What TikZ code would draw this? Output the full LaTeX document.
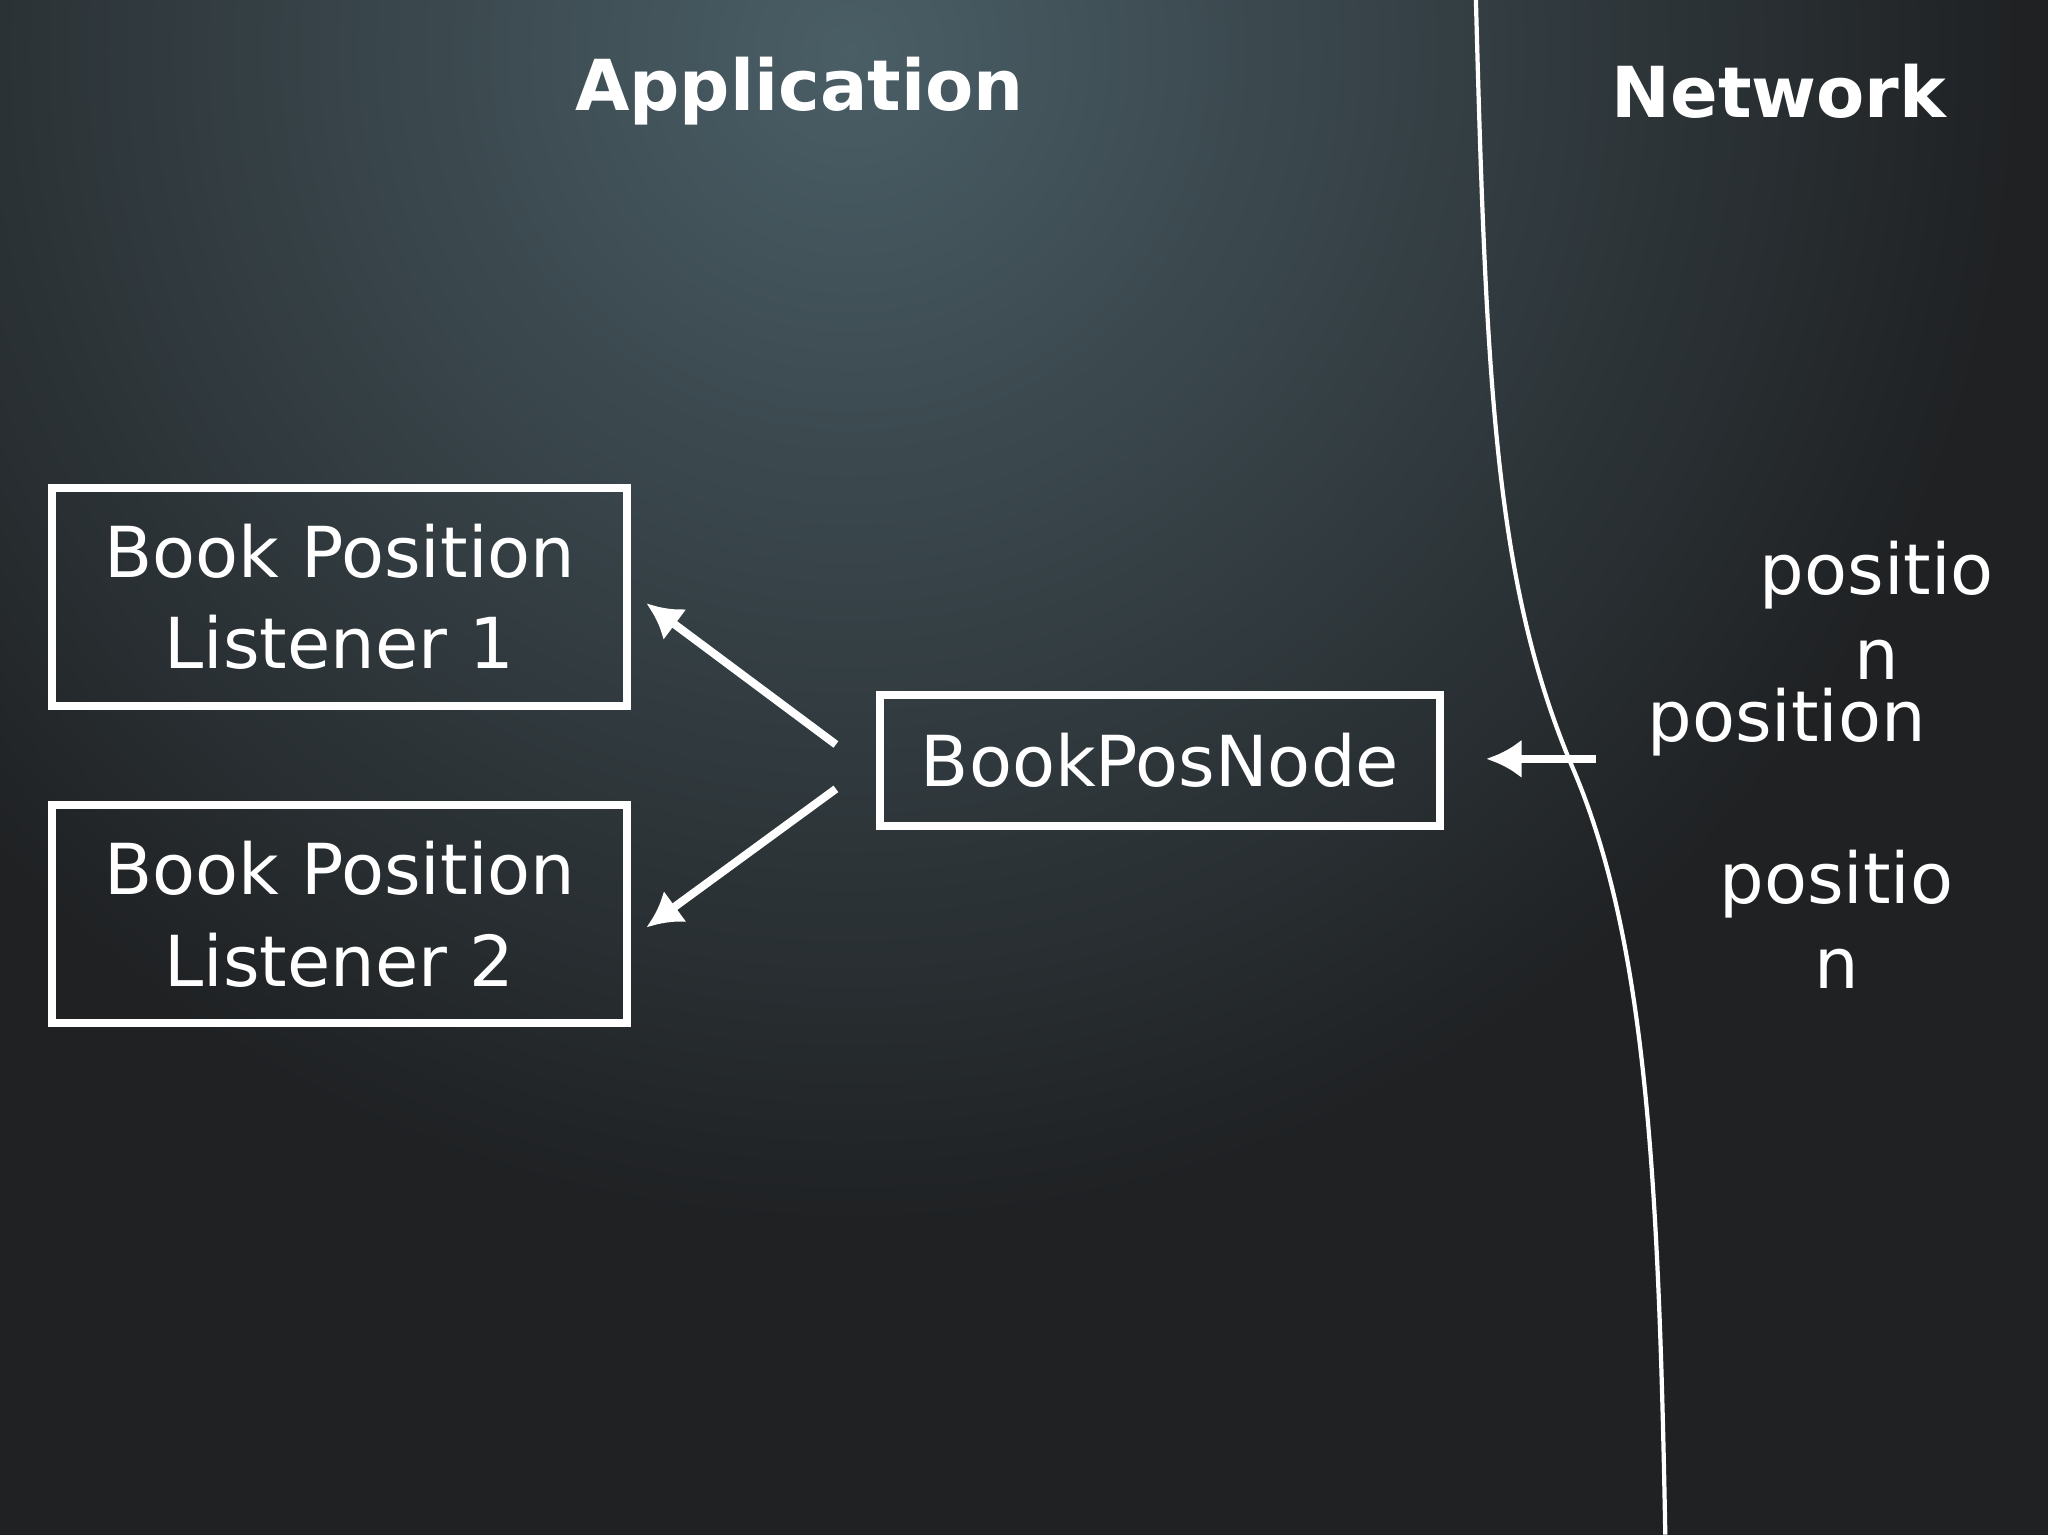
\documentclass[tikz,border=0pt]{standalone}
\usepackage{fontspec}
\setmainfont{DejaVu Sans}
\usetikzlibrary{arrows.meta}
\definecolor{bgdark}{RGB}{31,33,35}
\definecolor{bglight}{RGB}{74,94,102}
\begin{document}
\begin{tikzpicture}[x=0.013061cm,y=-0.013061cm,
  box/.style={draw=white,line width=2.3pt,inner sep=0pt,align=center,font=\fontsize{20}{26}\selectfont,text=white},
  lbl/.style={text=white,font=\fontsize{20}{26}\selectfont,inner sep=0pt},
  head/.style={text=white,font=\bfseries\fontsize{20}{24}\selectfont},
  arr/.style={draw=white,line width=2.3pt,-{Latex[length=10pt,width=11pt]}}]
\useasboundingbox (0,0) rectangle (1568,1175);
\fill[bgdark] (0,0) rectangle (1568,1175);
\begin{scope}
\clip (0,0) rectangle (1568,1175);
\shade[inner color=bglight, outer color=bgdark] (650,40) circle (900);
\end{scope}
\node[head] (app) at (612,70) {Application};
\node[head] (net) at (1362,70) {Network};
\draw[white,line width=1.2pt] (1130,0) .. controls (1138,300) and (1145,450) .. (1205,590) .. controls (1260,720) and (1270,900) .. (1275,1175);
\node[box,minimum width=5.747cm,minimum height=2.18cm] (l1) at (260,457) {Book Position\\Listener 1};
\node[box,minimum width=5.747cm,minimum height=2.18cm] (l2) at (260,700) {Book Position\\Listener 2};
\node[box,minimum width=5.60cm,minimum height=1.31cm] (bpn) at (888,582) {BookPosNode};
\coordinate (s1) at (640,570);
\coordinate (e1) at (495,462);
\coordinate (s2) at (640,604);
\coordinate (e2) at (495,710);
\coordinate (s3) at (1222,581);
\coordinate (e3) at (1138,581);
\draw[arr] (s1) -- (e1);
\draw[arr] (s2) -- (e2);
\draw[arr] (s3) -- (e3);
\node[lbl] (p1a) at (1437,440) {positio};
\node[lbl] (p1b) at (1437,505) {n};
\node[lbl] (p2) at (1368,553) {position};
\node[lbl] (p3a) at (1406,677) {positio};
\node[lbl] (p3b) at (1406,742) {n};
\end{tikzpicture}
\end{document}
